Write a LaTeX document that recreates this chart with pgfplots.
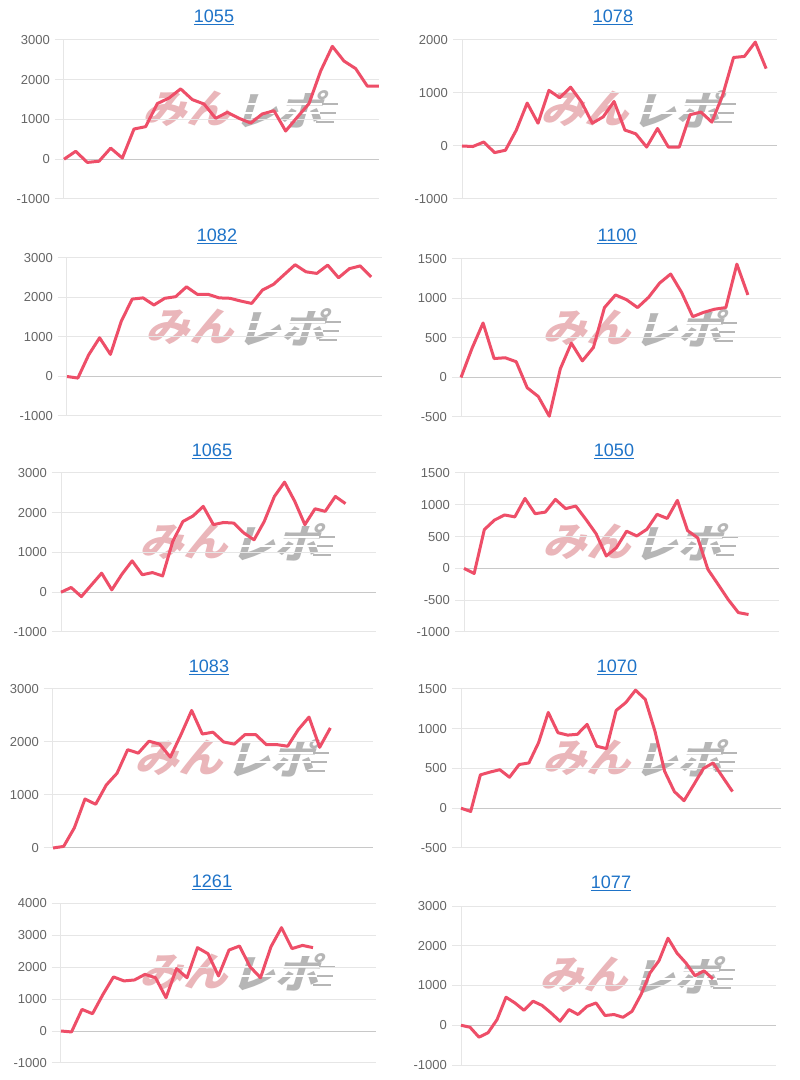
\documentclass[border=0pt]{standalone}
\usepackage{fontspec}
\setmainfont{Liberation Sans}
\newfontfamily\jp{Noto Sans CJK JP}
\usepackage{pgfplots}
\pgfplotsset{compat=1.18}
\definecolor{linecol}{RGB}{238,78,104}
\definecolor{gridgray}{RGB}{230,230,230}
\definecolor{zerogray}{RGB}{200,200,200}
\definecolor{labgray}{RGB}{102,102,102}
\definecolor{linkblue}{RGB}{30,115,200}
\definecolor{wmpink}{RGB}{234,182,186}
\definecolor{wmgray}{RGB}{182,182,182}
\pgfplotsset{panel/.style={scale only axis, anchor=south west, hide x axis,
  axis y line*=left, y axis line style={draw=gridgray, line width=1pt, -},
  ymajorgrids, grid style={draw=gridgray, line width=1pt},
  tick align=outside, major tick length=9pt,
  ytick style={draw=gridgray, line width=1pt},
  yticklabel style={font=\fontsize{13}{13}\selectfont, text=labgray, inner sep=0pt, xshift=-5pt},
  xmin=0, clip=false},
  ser/.style={color=linecol, line width=3pt, line join=round, mark=none}}
\newcommand{\zeroline}{\draw[zerogray, line width=1pt] ({rel axis cs:0,0}|-{axis cs:0,0}) -- ({rel axis cs:1,0}|-{axis cs:0,0});}
\newcommand{\wm}[2]{%
  \begin{scope}[shift={(#1,#2)}]
    \node[text=wmpink, font=\jp\bfseries\fontsize{40}{40}\selectfont, inner sep=0pt, anchor=east, xslant=0.3, xscale=1.1] at (0,0) {みん};
    \node[text=wmgray, font=\jp\bfseries\fontsize{40}{40}\selectfont, inner sep=0pt, anchor=west, xslant=0.3, xscale=1.1] at (3,0) {レポ};
    \fill[white] (0,-5) rectangle (100,-3.5);
    \fill[white] (0,4) rectangle (100,5.5);
    \fill[wmgray] (80,-14) rectangle (98,-12.5);
    \fill[wmgray] (84,-5) rectangle (100,-3.5);
    \fill[wmgray] (86,4) rectangle (102,5.5);
  \end{scope}}
\newcommand{\ttl}[3]{%
  \node[anchor=base, font=\fontsize{18}{18}\selectfont, text=linkblue, inner sep=0pt] (t) at (#1,#2) {#3};
  \draw[linkblue, line width=1pt] ([yshift=-2pt]t.base west) -- ([yshift=-2pt]t.base east);}
\begin{document}
\begin{tikzpicture}[x=1pt,y=1pt]
\fill[white] (0,0) rectangle (800,1080);
\path[use as bounding box] (0,0) rectangle (800,1080);
% watermarks
\wm{235.5}{971}
\wm{633.5}{971}
\wm{238.5}{753}
\wm{635}{752}
\wm{232.5}{538}
\wm{635.5}{538}
\wm{227}{322}
\wm{635}{322}
\wm{232.5}{108}
\wm{632.5}{105}
% titles
\ttl{214}{1057.5}{1055}
\ttl{613}{1057.5}{1078}
\ttl{217}{838.5}{1082}
\ttl{617}{838.5}{1100}
\ttl{212}{623.5}{1065}
\ttl{614}{623.5}{1050}
\ttl{209}{407}{1083}
\ttl{617}{407}{1070}
\ttl{212}{192}{1261}
\ttl{611}{191}{1077}
% P1 1055
\begin{axis}[panel, at={(64pt,881pt)}, width=315pt, height=159pt, xmax=27, ymin=-1000, ymax=3000,
  ytick={-1000,0,1000,2000,3000}, yticklabels={-1000,0,1000,2000,3000}]
\zeroline
\addplot[ser] table[x expr=\coordindex, y index=0, header=false, row sep=\\] {0\\200\\-80\\-50\\280\\30\\760\\820\\1400\\1540\\1770\\1500\\1390\\1030\\1180\\1030\\910\\1140\\1220\\710\\1060\\1400\\2220\\2840\\2470\\2280\\1840\\1840\\};
\end{axis}
% P2 1078
\begin{axis}[panel, at={(462pt,881pt)}, width=315pt, height=159pt, xmax=29, ymin=-1000, ymax=2000,
  ytick={-1000,0,1000,2000}, yticklabels={-1000,0,1000,2000}]
\zeroline
\addplot[ser] table[x expr=\coordindex, y index=0, header=false, row sep=\\] {0\\-10\\75\\-125\\-80\\300\\810\\430\\1050\\910\\1110\\830\\430\\550\\840\\300\\230\\-20\\330\\-20\\-20\\590\\640\\450\\960\\1670\\1690\\1960\\1460\\};
\end{axis}
% P3 1082
\begin{axis}[panel, at={(67pt,664pt)}, width=315pt, height=158pt, xmax=29, ymin=-1000, ymax=3000,
  ytick={-1000,0,1000,2000,3000}, yticklabels={-1000,0,1000,2000,3000}]
\zeroline
\addplot[ser] table[x expr=\coordindex, y index=0, header=false, row sep=\\] {0\\-40\\550\\980\\560\\1400\\1960\\1990\\1810\\1980\\2020\\2270\\2080\\2080\\1990\\1980\\1910\\1850\\2190\\2330\\2580\\2830\\2650\\2610\\2820\\2500\\2730\\2800\\2520\\};
\end{axis}
% P4 1100
\begin{axis}[panel, at={(461pt,663pt)}, width=320pt, height=158pt, xmax=29, ymin=-500, ymax=1500,
  ytick={-500,0,500,1000,1500}, yticklabels={-500,0,500,1000,1500}]
\zeroline
\addplot[ser] table[x expr=\coordindex, y index=0, header=false, row sep=\\] {0\\370\\690\\240\\250\\200\\-130\\-240\\-490\\110\\435\\210\\380\\885\\1045\\985\\885\\1015\\1195\\1310\\1075\\770\\825\\865\\885\\1435\\1045\\};
\end{axis}
% P5 1065
\begin{axis}[panel, at={(61pt,448pt)}, width=315pt, height=159pt, xmax=31, ymin=-1000, ymax=3000,
  ytick={-1000,0,1000,2000,3000}, yticklabels={-1000,0,1000,2000,3000}]
\zeroline
\addplot[ser] table[x expr=\coordindex, y index=0, header=false, row sep=\\] {0\\120\\-110\\185\\480\\60\\455\\790\\440\\495\\410\\1280\\1780\\1920\\2160\\1700\\1755\\1740\\1490\\1320\\1780\\2410\\2770\\2290\\1700\\2100\\2035\\2410\\2230\\};
\end{axis}
% P6 1050
\begin{axis}[panel, at={(464pt,448pt)}, width=315pt, height=159pt, xmax=31, ymin=-1000, ymax=1500,
  ytick={-1000,-500,0,500,1000,1500}, yticklabels={-1000,-500,0,500,1000,1500}]
\zeroline
\addplot[ser] table[x expr=\coordindex, y index=0, header=false, row sep=\\] {0\\-80\\610\\760\\840\\810\\1100\\860\\885\\1085\\940\\980\\770\\545\\195\\325\\585\\510\\615\\850\\785\\1070\\595\\480\\-15\\-250\\-490\\-695\\-725\\};
\end{axis}
% P7 1083
\begin{axis}[panel, at={(53pt,232pt)}, width=320pt, height=159pt, xmax=30, ymin=0, ymax=3000,
  ytick={0,1000,2000,3000}, yticklabels={0,1000,2000,3000}]
\zeroline
\addplot[ser] table[x expr=\coordindex, y index=0, header=false, row sep=\\] {0\\30\\380\\925\\825\\1190\\1410\\1855\\1790\\2015\\1960\\1715\\2140\\2595\\2150\\2185\\2000\\1960\\2140\\2140\\1950\\1950\\1920\\2235\\2470\\1900\\2265\\};
\end{axis}
% P8 1070
\begin{axis}[panel, at={(461pt,232pt)}, width=320pt, height=159pt, xmax=33, ymin=-500, ymax=1500,
  ytick={-500,0,500,1000,1500}, yticklabels={-500,0,500,1000,1500}]
\zeroline
\addplot[ser] table[x expr=\coordindex, y index=0, header=false, row sep=\\] {0\\-40\\420\\455\\485\\390\\550\\570\\825\\1205\\950\\920\\930\\1055\\780\\750\\1230\\1330\\1485\\1370\\970\\465\\210\\95\\295\\500\\570\\390\\210\\};
\end{axis}
% P9 1261
\begin{axis}[panel, at={(61pt,17pt)}, width=315pt, height=160pt, xmax=30, ymin=-1000, ymax=4000,
  ytick={-1000,0,1000,2000,3000,4000}, yticklabels={-1000,0,1000,2000,3000,4000}]
\zeroline
\addplot[ser] table[x expr=\coordindex, y index=0, header=false, row sep=\\] {0\\-30\\675\\540\\1145\\1690\\1565\\1595\\1770\\1665\\1040\\1950\\1665\\2605\\2415\\1720\\2530\\2655\\2010\\1665\\2635\\3230\\2575\\2675\\2605\\};
\end{axis}
% P10 1077
\begin{axis}[panel, at={(461pt,15pt)}, width=315pt, height=159pt, xmax=35, ymin=-1000, ymax=3000,
  ytick={-1000,0,1000,2000,3000}, yticklabels={-1000,0,1000,2000,3000}]
\zeroline
\addplot[ser] table[x expr=\coordindex, y index=0, header=false, row sep=\\] {0\\-50\\-300\\-190\\140\\705\\560\\375\\605\\500\\310\\100\\395\\270\\475\\560\\245\\270\\200\\350\\770\\1315\\1625\\2190\\1815\\1565\\1245\\1370\\1165\\};
\end{axis}
\end{tikzpicture}
\end{document}
